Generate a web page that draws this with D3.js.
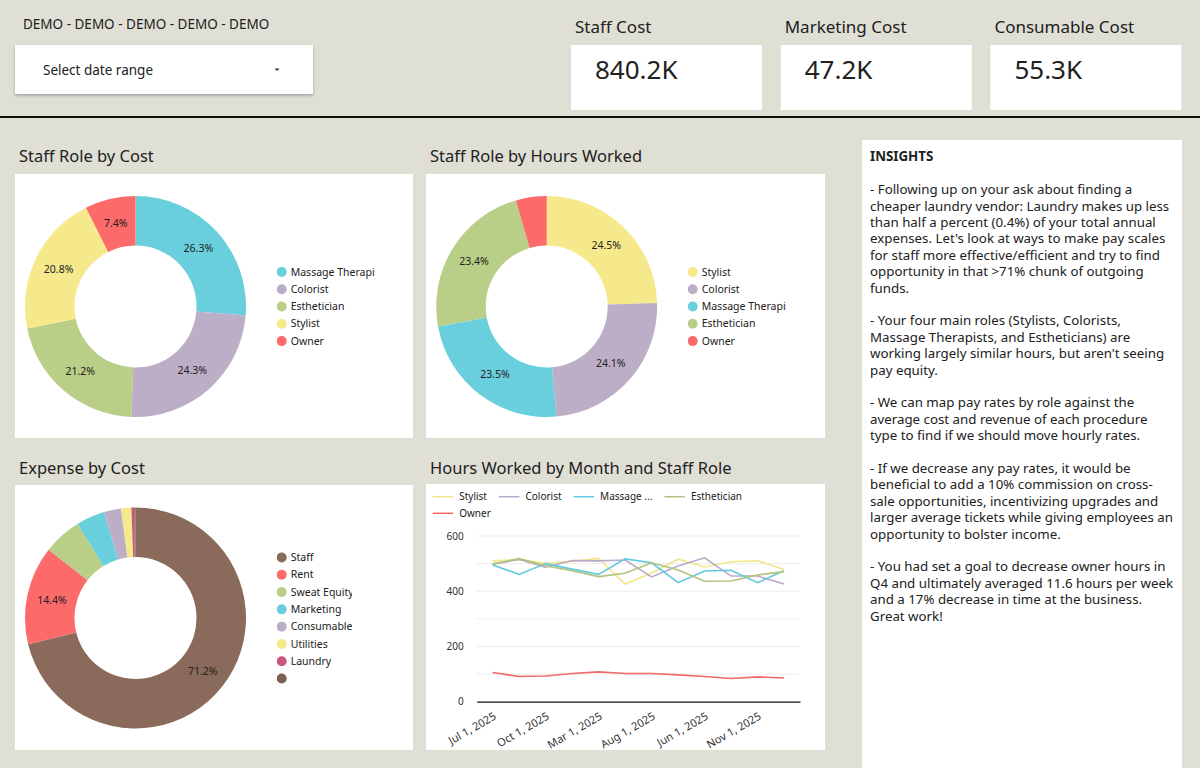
<!DOCTYPE html>
<html>
<head>
<meta charset="utf-8">
<script src="https://cdn.jsdelivr.net/npm/d3@7"></script>
<style>
	body { margin: 0; background: #e0dfd6; }
	svg { display: block; font-family: 'Noto Sans', sans-serif; }
</style>
</head>
<body>
<svg id="dash" width="1200" height="768"></svg>
<script>
'use strict';

// --- data ---
const headerTitle = 'DEMO - DEMO - DEMO - DEMO - DEMO';
const kpiLabels = ['Staff Cost', 'Marketing Cost', 'Consumable Cost'];
const kpiValues = ['840.2K', '47.2K', '55.3K'];

const roleCostLabels = ['Massage Therapist', 'Colorist', 'Esthetician', 'Stylist', 'Owner'];
const roleCostValues = [26.3, 24.3, 21.2, 20.8, 7.4];

const roleHoursLabels = ['Stylist', 'Colorist', 'Massage Therapist', 'Esthetician', 'Owner'];
const roleHoursValues = [24.5, 24.1, 23.5, 23.4, 4.5];

const expenseLabels = ['Staff', 'Rent', 'Sweat Equity', 'Marketing', 'Consumable', 'Utilities', 'Laundry', ''];
const expenseValues = [71.2, 14.4, 5.6, 4.2, 2.5, 1.5, 0.4, 0.2];

const months = ['Jul 1, 2025', 'Feb 1, 2025', 'Oct 1, 2025', 'Dec 1, 2025', 'Mar 1, 2025', 'Jan 1, 2025',
	'Aug 1, 2025', 'Apr 1, 2025', 'Jun 1, 2025', 'Sep 1, 2025', 'Nov 1, 2025', 'May 1, 2025'];
const stylistHours     = [510, 515, 501, 508, 519, 426, 466, 516, 488, 507, 510, 479];
const coloristHours    = [498, 515, 487, 511, 510, 513, 452, 491, 521, 455, 455, 426];
const massageHours     = [495, 461, 500, 480, 461, 517, 503, 431, 473, 476, 431, 474];
const estheticianHours = [499, 518, 492, 474, 453, 465, 503, 477, 436, 437, 459, 471];
const ownerHours       = [106, 91, 93, 102, 108, 102, 102, 97, 91, 84, 90, 86];
const yTicks = [0, 200, 400, 600];

const insightLines = [
	'INSIGHTS',
	'',
	'- Following up on your ask about finding a',
	'cheaper laundry vendor: Laundry makes up less',
	'than half a percent (0.4%) of your total annual',
	"expenses. Let's look at ways to make pay scales",
	'for staff more effective/efficient and try to find',
	'opportunity in that >71% chunk of outgoing',
	'funds.',
	'',
	'- Your four main roles (Stylists, Colorists,',
	'Massage Therapists, and Estheticians) are',
	"working largely similar hours, but aren't seeing",
	'pay equity.',
	'',
	'- We can map pay rates by role against the',
	'average cost and revenue of each procedure',
	'type to find if we should move hourly rates.',
	'',
	'- If we decrease any pay rates, it would be',
	'beneficial to add a 10% commission on cross-',
	'sale opportunities, incentivizing upgrades and',
	'larger average tickets while giving employees an',
	'opportunity to bolster income.',
	'',
	'- You had set a goal to decrease owner hours in',
	'Q4 and ultimately averaged 11.6 hours per week',
	'and a 17% decrease in time at the business.',
	'Great work!'
];

// --- styling ---
const roleColors = {
	'Massage Therapist': '#6acfdd',
	'Colorist': '#bcaec6',
	'Esthetician': '#b9ce87',
	'Stylist': '#f6e98b',
	'Owner': '#fc6a6a'
};
const expenseColors = ['#8a6a5a', '#fc6a6a', '#b9ce87', '#6acfdd', '#bcaec6', '#f6e98b', '#c9587b', '#7e5f51'];
const lineColors = {
	'Stylist': '#f3e58a',
	'Colorist': '#b9a8c9',
	'Massage Therapist': '#5fcadf',
	'Esthetician': '#adc47d',
	'Owner': '#f06a6a'
};
const textColor = '#212121';

const svg = d3.select('#dash');
const defs = svg.append('defs');

let shadow = defs.append('filter').attr('id', 'shadow')
	.attr('x', '-5%').attr('y', '-10%').attr('width', '110%').attr('height', '140%');
shadow.append('feDropShadow')
	.attr('dx', 0).attr('dy', 1.5).attr('stdDeviation', 1.5)
	.attr('flood-color', '#000').attr('flood-opacity', 0.3);

svg.append('rect').attr('width', 1200).attr('height', 768).attr('fill', '#e0dfd6');

// header
svg.append('text')
	.attr('x', 23).attr('y', 24).attr('dy', '0.35em')
	.style('font-size', '13.5px').attr('fill', textColor)
	.text(headerTitle);

svg.append('rect')
	.attr('x', 15).attr('y', 45).attr('width', 298).attr('height', 49)
	.attr('fill', '#fff').attr('filter', 'url(#shadow)');
svg.append('text')
	.attr('x', 43).attr('y', 70).attr('dy', '0.35em')
	.style('font-size', '13.5px').attr('fill', textColor)
	.text('Select date range');
svg.append('path')
	.attr('d', 'M274.5,68.5 L279.5,68.5 L277,71 Z')
	.attr('fill', '#333');

kpiLabels.forEach(function(label, i) {
	let x = 571 + i * 209.7;
	svg.append('text')
		.attr('x', x + 4).attr('y', 27).attr('dy', '0.35em')
		.style('font-size', '17px').attr('fill', textColor)
		.text(label);
	svg.append('rect')
		.attr('x', x).attr('y', 45).attr('width', 191).attr('height', 65)
		.attr('fill', '#fff');
	svg.append('text')
		.attr('x', x + 24).attr('y', 70).attr('dy', '0.35em')
		.style('font-size', '26px').attr('fill', textColor)
		.text(kpiValues[i]);
});

svg.append('rect').attr('x', 0).attr('y', 116).attr('width', 1200).attr('height', 2).attr('fill', '#111');

// panels
function panel(x, y, w, h, title, titleY) {
	svg.append('text')
		.attr('x', x + 4).attr('y', titleY).attr('dy', '0.35em')
		.style('font-size', '16.5px').attr('fill', textColor)
		.text(title);
	svg.append('rect')
		.attr('x', x).attr('y', y).attr('width', w).attr('height', h)
		.attr('fill', '#fff');
}

panel(15, 174, 398, 264, 'Staff Role by Cost', 156.7);
panel(426, 174, 399, 264, 'Staff Role by Hours Worked', 156.7);
panel(15, 485, 398, 265, 'Expense by Cost', 468);
panel(426, 484, 399, 266, 'Hours Worked by Month and Staff Role', 468);

function drawDonut(id, cx, cy, labels, values, colors, legendX, clipEnd) {
	let data = labels.map(function(l, i) { return {label: l, value: values[i], color: colors[i]}; });
	let pie = d3.pie().sort(null).value(function(d) { return d.value; });
	let arc = d3.arc().innerRadius(61).outerRadius(110.5);
	let labelArc = d3.arc().innerRadius(85.5).outerRadius(85.5);

	let g = svg.append('g').attr('transform', 'translate(' + cx + ',' + cy + ')');
	let arcs = pie(data);
	g.selectAll('path')
		.data(arcs)
		.enter()
		.append('path')
		.attr('d', arc)
		.attr('fill', function(d) { return d.data.color; });

	g.selectAll('text')
		.data(arcs.filter(function(d) { return d.data.value >= 7; }))
		.enter()
		.append('text')
		.attr('transform', function(d) { return 'translate(' + labelArc.centroid(d) + ')'; })
		.attr('text-anchor', 'middle')
		.attr('dy', '0.35em')
		.style('font-size', '10.5px')
		.attr('fill', textColor)
		.text(function(d) { return d.data.value.toFixed(1) + '%'; });

	// legend, clipped like the original
	defs.append('clipPath').attr('id', 'clip-' + id)
		.append('rect')
		.attr('x', legendX).attr('y', 0).attr('width', clipEnd - legendX).attr('height', 768);

	let step = 17.3;
	let startY = cy - (data.length - 1) / 2 * step;
	let lg = svg.append('g').attr('clip-path', 'url(#clip-' + id + ')');
	let row = lg.selectAll('g')
		.data(data)
		.enter()
		.append('g')
		.attr('transform', function(d, i) { return 'translate(' + legendX + ',' + (startY + i * step) + ')'; });
	row.append('circle').attr('cx', 5).attr('r', 5).attr('fill', function(d) { return d.color; });
	row.append('text')
		.attr('x', 14).attr('dy', '0.35em')
		.style('font-size', '10.5px')
		.attr('fill', textColor)
		.text(function(d) { return d.label; });
}

drawDonut('cost', 135.5, 306.5, roleCostLabels, roleCostValues,
	roleCostLabels.map(function(l) { return roleColors[l]; }), 276.7, 375);
drawDonut('hours', 546.7, 306.5, roleHoursLabels, roleHoursValues,
	roleHoursLabels.map(function(l) { return roleColors[l]; }), 687.7, 786);
drawDonut('expense', 135.5, 618, expenseLabels, expenseValues, expenseColors, 276.7, 352);

// line chart
let series = [
	{name: 'Stylist', label: 'Stylist', values: stylistHours},
	{name: 'Colorist', label: 'Colorist', values: coloristHours},
	{name: 'Massage Therapist', label: 'Massage ...', values: massageHours},
	{name: 'Esthetician', label: 'Esthetician', values: estheticianHours},
	{name: 'Owner', label: 'Owner', values: ownerHours}
];

let x = d3.scalePoint()
	.domain(months)
	.range([476.7, 800])
	.padding(0.6);
let y = d3.scaleLinear()
	.domain([0, 600])
	.range([701.7, 536]);

let chart = svg.append('g');

chart.append('g')
	.selectAll('line')
	.data(d3.range(100, 601, 100))
	.enter()
	.append('line')
	.attr('x1', 476.7).attr('x2', 800)
	.attr('y1', function(d) { return y(d); })
	.attr('y2', function(d) { return y(d); })
	.attr('stroke', '#ececec');

let yAxis = chart.append('g')
	.attr('transform', 'translate(476.7,0)')
	.call(d3.axisLeft(y).tickValues(yTicks).tickSize(0).tickPadding(13));
yAxis.select('.domain').remove();
yAxis.selectAll('text').style('font-size', '10px').attr('fill', '#333').style('font-family', 'Noto Sans');

let xAxis = chart.append('g')
	.attr('transform', 'translate(0,' + y(0) + ')')
	.call(d3.axisBottom(x)
		.tickValues(months.filter(function(d, i) { return i % 2 === 0; }))
		.tickSize(0));
xAxis.select('.domain').attr('stroke', '#111').attr('stroke-width', 1.3);
xAxis.selectAll('text')
	.attr('y', 0)
	.attr('dy', '0.71em')
	.attr('transform', 'translate(0,10) rotate(-30)')
	.style('text-anchor', 'end')
	.style('font-size', '11px')
	.style('font-family', 'Noto Sans')
	.attr('fill', '#333');

let line = d3.line()
	.x(function(d, i) { return x(months[i]); })
	.y(function(d) { return y(d); });

chart.selectAll('path.series')
	.data(series)
	.enter()
	.append('path')
	.attr('class', 'series')
	.attr('d', function(d) { return line(d.values); })
	.attr('fill', 'none')
	.attr('stroke', function(d) { return lineColors[d.name]; })
	.attr('stroke-width', 1.6);

// line chart legend (two rows)
let lx = 432.7, ly = 496.7;
series.forEach(function(s, i) {
	if (i === 4) { lx = 432.7; ly = 513.3; }
	chart.append('line')
		.attr('x1', lx).attr('x2', lx + 20.5)
		.attr('y1', ly).attr('y2', ly)
		.attr('stroke', lineColors[s.name]).attr('stroke-width', 1.5);
	let t = chart.append('text')
		.attr('x', lx + 26.5).attr('y', ly).attr('dy', '0.35em')
		.style('font-size', '10px').attr('fill', textColor)
		.text(s.label);
	lx += 26.5 + t.node().getComputedTextLength() + 12;
});

// insights
svg.append('rect')
	.attr('x', 862).attr('y', 140).attr('width', 320).attr('height', 628)
	.attr('fill', '#fff');
svg.append('g')
	.selectAll('text')
	.data(insightLines)
	.enter()
	.append('text')
	.attr('x', 870)
	.attr('y', function(d, i) { return 156.7 + i * 16.4; })
	.attr('dy', '0.35em')
	.style('font-size', '13.3px')
	.style('font-weight', function(d, i) { return i === 0 ? 'bold' : 'normal'; })
	.attr('fill', textColor)
	.text(function(d) { return d; });
</script>
</body>
</html>
